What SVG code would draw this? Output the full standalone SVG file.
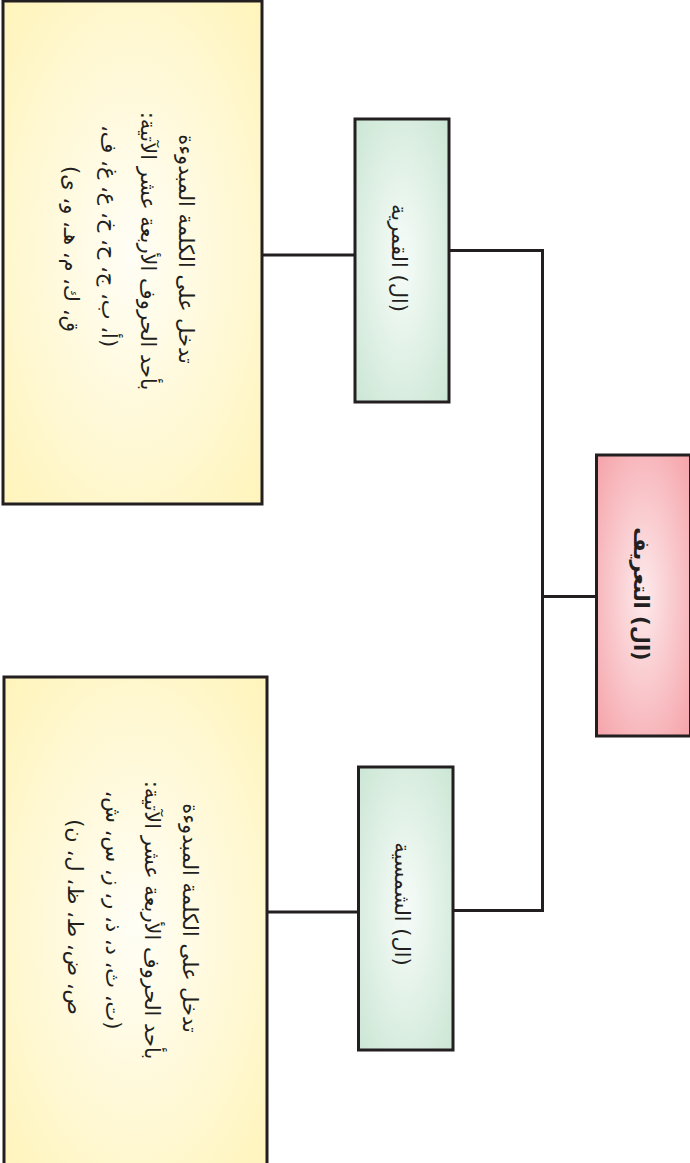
<svg xmlns="http://www.w3.org/2000/svg" width="690" height="1163" viewBox="0 0 690 1163">
<defs>
<radialGradient id="gPink" cx="50%" cy="50%" r="70%"><stop offset="0" stop-color="#fdeaec"/><stop offset="1" stop-color="#f5a3a9"/></radialGradient>
<radialGradient id="gGreen" cx="50%" cy="50%" r="70%"><stop offset="0" stop-color="#f7fcf9"/><stop offset="1" stop-color="#cbe6d4"/></radialGradient>
<radialGradient id="gYellow" cx="50%" cy="50%" r="70%"><stop offset="0" stop-color="#fffef6"/><stop offset="1" stop-color="#fff4bb"/></radialGradient>
<style>
.box{stroke:#231f20;stroke-width:3}
.con{stroke:#231f20;stroke-width:3;fill:none}
.t{font-family:"DejaVu Sans",sans-serif;fill:#231f20;text-anchor:middle;dominant-baseline:central;direction:rtl;unicode-bidi:embed}
.tb{font-size:21px;font-weight:bold}
.tm{font-size:21px}
.ts{font-size:21px}
</style>
</defs>
<g id="connectors">
<line class="con" x1="596.5" y1="596.5" x2="542.5" y2="596.5"/>
<line class="con" x1="542.5" y1="249" x2="542.5" y2="912"/>
<line class="con" x1="542.5" y1="250.5" x2="449" y2="250.5"/>
<line class="con" x1="542.5" y1="910.5" x2="453" y2="910.5"/>
<line class="con" x1="355" y1="255" x2="262" y2="255"/>
<line class="con" x1="358.5" y1="912" x2="266.5" y2="912"/>
</g>
<g id="root">
<rect class="box" x="596.5" y="455" width="94" height="281" fill="url(#gPink)"/>
<text class="t tb" direction="rtl" transform="translate(641,594) rotate(90)">(ال) التعريف</text>
</g>
<g id="qamariya">
<rect class="box" x="355" y="119" width="94" height="283" fill="url(#gGreen)"/>
<text class="t tm" direction="rtl" transform="translate(399,258) rotate(90)">(ال) القمرية</text>
</g>
<g id="shamsiya">
<rect class="box" x="358.5" y="767" width="94.5" height="283" fill="url(#gGreen)"/>
<text class="t tm" direction="rtl" transform="translate(402,904) rotate(90)">(ال) الشمسية</text>
</g>
<g id="qamariya-desc">
<rect class="box" x="3" y="1" width="259" height="503" fill="url(#gYellow)"/>
<text class="t ts" direction="rtl" transform="translate(186,249) rotate(90)">تدخل على الكلمة المبدوءة</text>
<text class="t ts" direction="rtl" transform="translate(148,251) rotate(90)">بأحد الحروف الأربعة عشر الآتية:</text>
<text class="t ts" direction="rtl" transform="translate(109,236) rotate(90)">(أ، ب، ج، ح، خ، ع، غ، ف،</text>
<text class="t ts" direction="rtl" transform="translate(71,249) rotate(90)">ق، ك، م، هـ، و، ى)</text>
</g>
<g id="shamsiya-desc">
<rect class="box" x="4" y="677" width="263" height="500" fill="url(#gYellow)"/>
<text class="t ts" direction="rtl" transform="translate(190,918) rotate(90)">تدخل على الكلمة المبدوءة</text>
<text class="t ts" direction="rtl" transform="translate(152,920) rotate(90)">بأحد الحروف الأربعة عشر الآتية:</text>
<text class="t ts" direction="rtl" transform="translate(113,910) rotate(90)">(ت، ث، د، ذ، ر، ز، س، ش،</text>
<text class="t ts" direction="rtl" transform="translate(75,917) rotate(90)">ص، ض، ط، ظ، ل، ن)</text>
</g>
</svg>
